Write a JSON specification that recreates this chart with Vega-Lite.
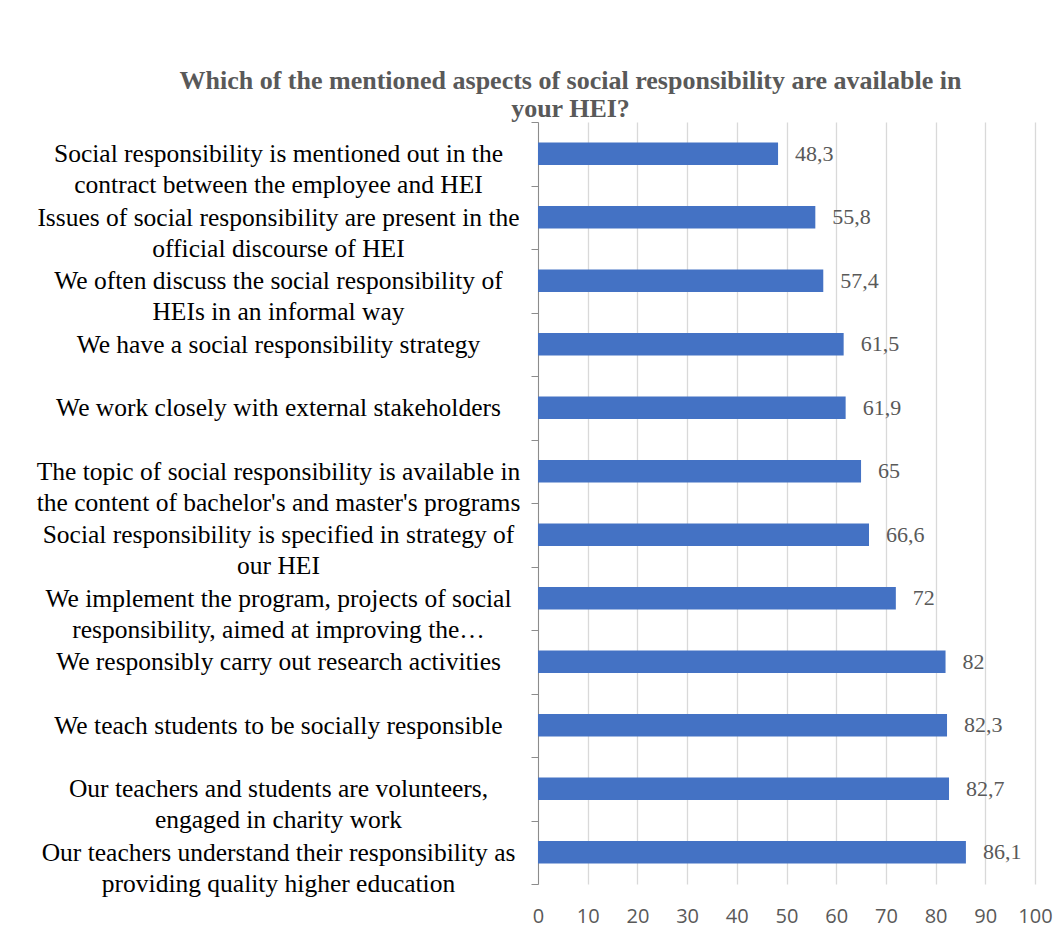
{
  "$schema": "https://vega.github.io/schema/vega-lite/v6.json",
  "autosize": {"type": "none"},
  "width": 497,
  "height": 762,
  "padding": {"left": 538, "top": 122, "right": 29, "bottom": 53},
  "background": "white",
  "title": {
    "text": ["Which of the mentioned aspects of social responsibility are available in", "your HEI?"],
    "font": "Liberation Serif",
    "fontSize": 26,
    "fontWeight": "bold",
    "color": "#595959",
    "anchor": "middle",
    "frame": "group",
    "dx": -216,
    "offset": -12,
    "lineHeight": 28
  },
  "config": {
    "locale": {"number": {"decimal": ",", "thousands": ".", "grouping": [3], "currency": ["", " €"]}},
    "view": {"stroke": null}
  },
  "data": {
    "values": [
      {"aspect": "Social responsibility is mentioned out in the\ncontract between the employee and HEI", "value": 48.3},
      {"aspect": "Issues of social responsibility are present in the\nofficial discourse of HEI", "value": 55.8},
      {"aspect": "We often discuss the social responsibility of\nHEIs in an informal way", "value": 57.4},
      {"aspect": "We have a social responsibility strategy", "value": 61.5},
      {"aspect": "We work closely with external stakeholders", "value": 61.9},
      {"aspect": "The topic of social responsibility is available in\nthe content of bachelor's and master's programs", "value": 65},
      {"aspect": "Social responsibility is specified in strategy of\nour HEI", "value": 66.6},
      {"aspect": "We implement the program, projects of social\nresponsibility, aimed at improving the…", "value": 72},
      {"aspect": "We responsibly carry out research activities", "value": 82},
      {"aspect": "We teach students to be socially responsible", "value": 82.3},
      {"aspect": "Our teachers and students are volunteers,\nengaged in charity work", "value": 82.7},
      {"aspect": "Our teachers understand their responsibility as\nproviding quality higher education", "value": 86.1}
    ]
  },
  "encoding": {
    "y": {
      "field": "aspect",
      "type": "nominal",
      "sort": {"field": "value", "order": "ascending"},
      "scale": {"paddingInner": 0, "paddingOuter": 0},
      "axis": {
        "title": null,
        "labelExpr": "split(datum.label, '\\n')",
        "labelFont": "Liberation Serif",
        "labelFontSize": 25.5,
        "labelColor": "#000000",
        "labelAlign": "center",
        "labelBaseline": "middle",
        "labelPadding": 253,
        "labelLimit": 700,
        "labelLineHeight": 31,
        "tickBand": "extent",
        "tickSize": 7,
        "tickColor": "#8c8c8c",
        "domainColor": "#8c8c8c",
        "grid": false
      }
    },
    "x": {
      "field": "value",
      "type": "quantitative",
      "scale": {"domain": [0, 100], "nice": false},
      "axis": {
        "title": null,
        "values": [0, 10, 20, 30, 40, 50, 60, 70, 80, 90, 100],
        "domain": false,
        "ticks": false,
        "grid": true,
        "gridColor": "#d9d9d9",
        "gridWidth": 1.3,
        "labelFont": "Open Sans",
        "labelFontSize": 20,
        "labelColor": "#595959",
        "labelPadding": 22,
        "labelFlush": false,
        "labelOverlap": false
      }
    }
  },
  "layer": [
    {"mark": {"type": "bar", "color": "#4472C4", "height": {"band": 0.356}}},
    {
      "mark": {"type": "text", "align": "left", "baseline": "middle", "dx": 17, "font": "Liberation Serif", "fontSize": 22, "color": "#595959"},
      "encoding": {"text": {"field": "value", "type": "quantitative", "format": ".1~f"}}
    }
  ]
}
